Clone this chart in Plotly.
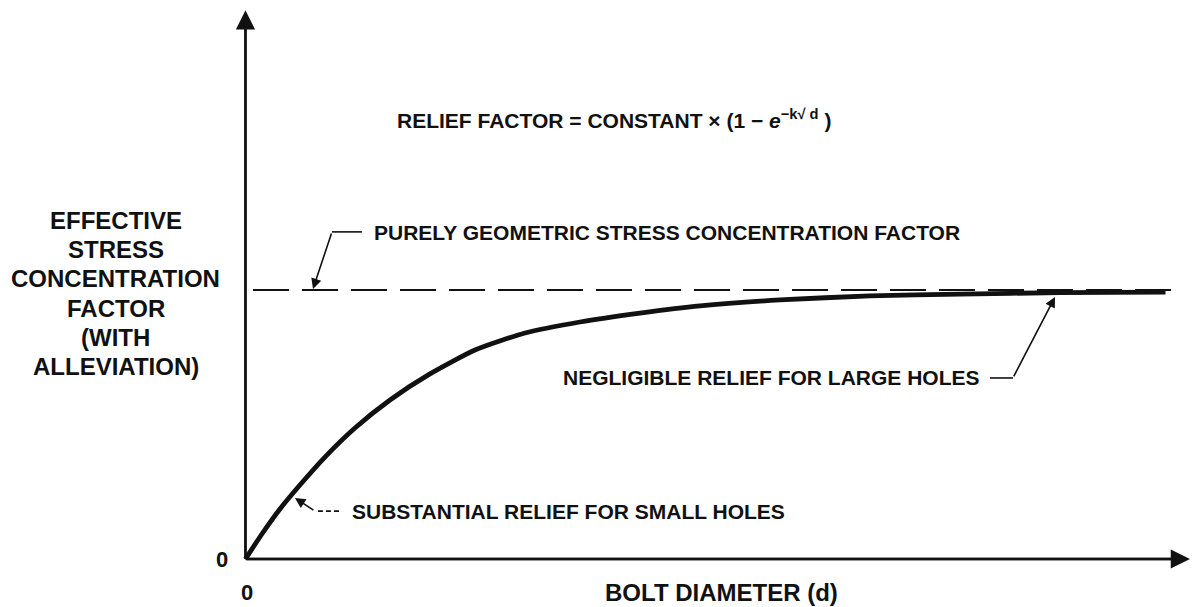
import plotly.graph_objects as go

# Effective stress concentration factor vs bolt diameter (normalised units)
bolt_diameter = [0, 0.179, 0.375, 0.592, 0.864, 1.190, 1.571, 2.005, 2.495, 3.038,
                 3.636, 4.288, 4.940, 5.810, 6.788, 7.766, 8.853, 10.0]
effective_kt = [0, 0.093, 0.186, 0.275, 0.379, 0.487, 0.591, 0.688, 0.777, 0.840,
                0.881, 0.914, 0.941, 0.963, 0.978, 0.985, 0.990, 0.992]

# Purely geometric stress concentration factor (upper bound)
geometric_kt = 1.0
geometric_span = [0.082, 10.19]

y_title_lines = ["EFFECTIVE", "STRESS", "CONCENTRATION", "FACTOR", "(WITH", "ALLEVIATION)"]
y_title_pos = [1.257, 1.149, 1.041, 0.933, 0.825, 0.717]

x_range = [-2.668, 10.288]
y_range = [-0.1784, 2.078]
axis_tip_x = 10.266
axis_tip_y = 2.04

FONT = "Liberation Sans, Arial, sans-serif"
INK = "#111111"
FS_NOTE = 21
FS_TITLE = 24

fig = go.Figure()

# reference level
fig.add_trace(go.Scatter(
    x=geometric_span, y=[geometric_kt, geometric_kt], mode="lines",
    line=dict(color=INK, width=2.2, dash="36px,13px"), hoverinfo="skip",
))

# relief curve
fig.add_trace(go.Scatter(
    x=bolt_diameter, y=effective_kt, mode="lines",
    line=dict(color=INK, width=4.8, shape="spline", smoothing=0.6), hoverinfo="skip",
))

annotations = []

# axes with arrowheads
for tip in [(0, axis_tip_y), (axis_tip_x, 0)]:
    annotations.append(dict(x=tip[0], y=tip[1], ax=0, ay=0, xref="x", yref="y", axref="x", ayref="y",
                            showarrow=True, arrowhead=2, arrowsize=1.6, arrowwidth=2.4,
                            arrowcolor=INK, text=""))

def label(text, x, y, xanchor="left", yanchor="middle", size=FS_NOTE, align="left"):
    annotations.append(dict(text=text, x=x, y=y, xref="x", yref="y", showarrow=False,
                            xanchor=xanchor, yanchor=yanchor, align=align,
                            font=dict(family=FONT, size=size, color=INK)))

label("<b>RELIEF FACTOR = CONSTANT × (1 − <i>e</i><sup>−k√ d</sup> )</b>", 1.625, 1.636)
for line, ypos in zip(y_title_lines, y_title_pos):
    label("<b>%s</b>" % line, -1.408, ypos, xanchor="center", align="center", size=FS_TITLE)
label("<b>PURELY GEOMETRIC STRESS CONCENTRATION FACTOR</b>", 1.375, 1.212)
label("<b>NEGLIGIBLE RELIEF FOR LARGE HOLES</b>", 8.005, 0.673, xanchor="right")
label("<b>SUBSTANTIAL RELIEF FOR SMALL HOLES</b>", 1.136, 0.175)
label("<b>0</b>", -0.255, 0.0, xanchor="center", size=22)
label("<b>0</b>", 0.016, -0.123, xanchor="center", size=22)
label("<b>BOLT DIAMETER (d)</b>", 3.886, -0.123, size=FS_TITLE)

# leader arrows
def leader(tip, tail):
    annotations.append(dict(x=tip[0], y=tip[1], ax=tail[0], ay=tail[1], xref="x", yref="y",
                            axref="x", ayref="y", showarrow=True, arrowhead=2, arrowsize=1.3,
                            arrowwidth=1.6, arrowcolor=INK, text=""))

leader((0.734, 1.004), (0.94, 1.216))
leader((8.799, 0.974), (8.342, 0.673))
leader((0.538, 0.227), (0.755, 0.178))

shapes = [
    dict(type="line", x0=0, y0=0, x1=0, y1=axis_tip_y - 0.02, xref="x", yref="y", line=dict(color=INK, width=2.4)),
    dict(type="line", x0=0, y0=0, x1=axis_tip_x - 0.05, y1=0, xref="x", yref="y", line=dict(color=INK, width=2.4)),
    dict(type="line", x0=0.94, y0=1.216, x1=1.266, y1=1.216, xref="x", yref="y", line=dict(color=INK, width=1.6)),
    dict(type="line", x0=8.092, y0=0.673, x1=8.342, y1=0.673, xref="x", yref="y", line=dict(color=INK, width=1.6)),
    dict(type="line", x0=0.788, y0=0.178, x1=1.05, y1=0.178, xref="x", yref="y",
         line=dict(color=INK, width=1.6, dash="5px,3px")),
]

fig.update_layout(
    width=1192, height=607,
    margin=dict(l=0, r=0, t=0, b=0),
    paper_bgcolor="white", plot_bgcolor="white",
    showlegend=False,
    xaxis=dict(range=x_range, visible=False, fixedrange=True),
    yaxis=dict(range=y_range, visible=False, fixedrange=True),
    annotations=annotations,
    shapes=shapes,
)

fig.write_html("out.html")
